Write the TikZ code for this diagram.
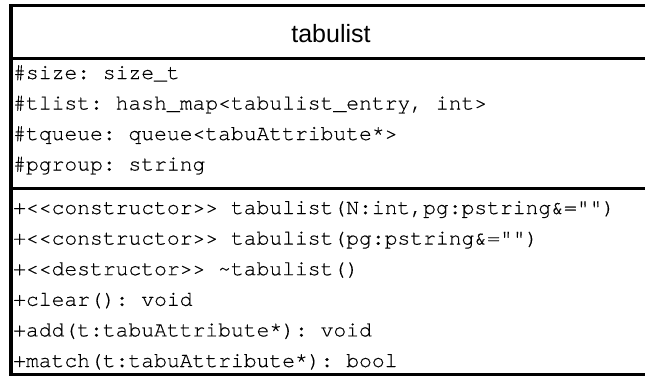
\documentclass[tikz,border=0pt]{standalone}
\usepackage{fontspec}
\setmainfont{Liberation Sans}
\setmonofont[FakeBold=0.3]{TeX Gyre Cursor}
\begin{document}
\begin{tikzpicture}[x=1pt,y=-1pt,
  member/.style={anchor=base west,inner sep=0pt,font=\ttfamily\fontsize{21.35}{24}\selectfont},
  titletext/.style={anchor=base,inner sep=0pt,font=\fontsize{25}{29}\selectfont},
  frame/.style={line width=3.3pt,draw=black}]
\useasboundingbox (0,0) rectangle (645,376);
\clip (0,0) rectangle (645,376);
\fill[white] (0,0) rectangle (645,376);
\draw[frame] (11,5.5) rectangle (653,374.5);
\draw[frame] (11,58.5) -- (653,58.5);
\draw[frame] (11,188.5) -- (653,188.5);
\node[titletext] (title) at (331,42) {tabulist};
\node[member] (a1) at (13,79) {\#size: size\_t};
\node[member] (a2) at (13,109.5) {\#tlist: hash\_map<tabulist\_entry, int>};
\node[member] (a3) at (13,140) {\#tqueue: queue<tabuAttribute*>};
\node[member] (a4) at (13,170.5) {\#pgroup: string};
\node[member] (m1) at (13,214) {+<<constructor>> tabulist(N:int,pg:pstring\&="")};
\node[member] (m2) at (13,244.6) {+<<constructor>> tabulist(pg:pstring\&="")};
\node[member] (m3) at (13,275.2) {+<<destructor>> \string~tabulist()};
\node[member] (m4) at (13,305.8) {+clear(): void};
\node[member] (m5) at (13,336.4) {+add(t:tabuAttribute*): void};
\node[member] (m6) at (13,367) {+match(t:tabuAttribute*): bool};
\end{tikzpicture}
\end{document}
